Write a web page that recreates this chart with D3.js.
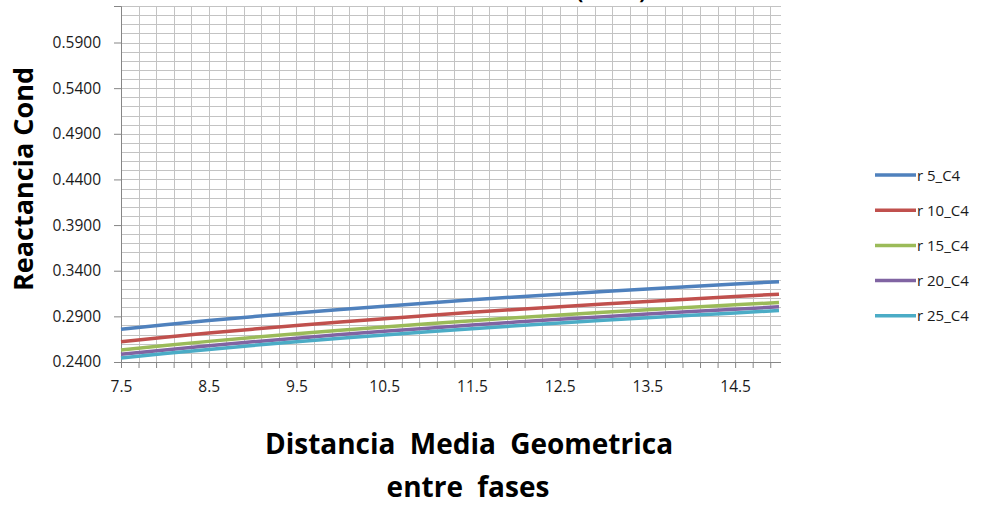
<!DOCTYPE html>
<html>
<head>
<meta charset="utf-8">
<script src="https://cdn.jsdelivr.net/npm/d3@7.9.0/dist/d3.min.js"></script>
<style>
  html, body { margin: 0; padding: 0; background: #fff; }
  svg { display: block; }
  .tick text { font-family: "Open Sans", sans-serif; font-size: 15.5px; fill: #1a1a1a; }
</style>
</head>
<body>
<svg id="chart" width="981" height="506"></svg>
<script>
// --- Data ---
const distancias = [7.5, 8, 8.5, 9, 9.5, 10, 10.5, 11, 11.5, 12, 12.5, 13, 13.5, 14, 14.5, 15];

const r5  = [0.2760, 0.2808, 0.2854, 0.2897, 0.2937, 0.2976, 0.3012, 0.3047, 0.3081, 0.3113, 0.3143, 0.3173, 0.3201, 0.3228, 0.3254, 0.3280];
const r10 = [0.2623, 0.2671, 0.2717, 0.2760, 0.2800, 0.2839, 0.2875, 0.2910, 0.2944, 0.2976, 0.3006, 0.3036, 0.3064, 0.3091, 0.3117, 0.3143];
const r15 = [0.2532, 0.2580, 0.2626, 0.2669, 0.2709, 0.2748, 0.2784, 0.2819, 0.2853, 0.2885, 0.2915, 0.2945, 0.2973, 0.3000, 0.3026, 0.3052];
const r20 = [0.2484, 0.2532, 0.2578, 0.2621, 0.2661, 0.2700, 0.2736, 0.2771, 0.2805, 0.2837, 0.2867, 0.2897, 0.2925, 0.2952, 0.2978, 0.3004];
const r25 = [0.2444, 0.2492, 0.2538, 0.2581, 0.2621, 0.2660, 0.2696, 0.2731, 0.2765, 0.2797, 0.2827, 0.2857, 0.2885, 0.2912, 0.2938, 0.2964];

const seriesNames = ['r 5_C4', 'r 10_C4', 'r 15_C4', 'r 20_C4', 'r 25_C4'];
const seriesValues = [r5, r10, r15, r20, r25];
const colors = ['#4F81BD', '#C0504D', '#9BBB59', '#8064A2', '#4BACC6'];

const yTicks = [0.24, 0.29, 0.34, 0.39, 0.44, 0.49, 0.54, 0.59];
const xTicks = [7.5, 8.5, 9.5, 10.5, 11.5, 12.5, 13.5, 14.5];

const svg = d3.select('#chart');

// --- Scales ---
const x = d3.scaleLinear().domain([7.5, 15]).range([121, 779]);
const y = d3.scaleLinear().domain([0.24, 0.63]).range([362, 6]);

// minor grid steps (0.2 on x, 0.01 on y)
const xMinor = d3.range(0, 38).map(i => +(7.5 + i * 0.2).toFixed(2));
const yMinor = d3.range(0, 40).map(i => +(0.24 + i * 0.01).toFixed(2));

// --- Gridlines ---
const grid = svg.append('g').attr('stroke', '#c3c3c3').attr('stroke-width', 1).attr('shape-rendering', 'crispEdges');
grid.selectAll('.hg').data(yMinor.slice(1)).join('line')
  .attr('x1', x(7.5)).attr('x2', 781)
  .attr('y1', d => Math.round(y(d)) + 0.5).attr('y2', d => Math.round(y(d)) + 0.5);
grid.selectAll('.vg').data(xMinor.slice(1)).join('line')
  .attr('y1', y(0.63)).attr('y2', y(0.24))
  .attr('x1', d => Math.round(x(d)) + 0.5).attr('x2', d => Math.round(x(d)) + 0.5);

// --- Axes ---
const yAxis = svg.append('g')
  .attr('transform', `translate(${x(7.5)},0)`)
  .call(d3.axisLeft(y).tickValues(yTicks).tickFormat(d3.format('.4f')).tickSize(7).tickPadding(13));
yAxis.select('.domain').attr('stroke', '#868686');
yAxis.selectAll('.tick line').attr('stroke', '#868686');

const xAxis = svg.append('g')
  .attr('transform', `translate(0,${y(0.24)})`)
  .call(d3.axisBottom(x).tickValues(xMinor).tickSize(6).tickPadding(13)
    .tickFormat(d => xTicks.includes(d) ? d3.format('.1f')(d) : ''));
xAxis.select('.domain').attr('stroke', '#868686').attr('d', `M${x(7.5)},0.5H781`);
xAxis.selectAll('.tick line').attr('stroke', '#868686');

// --- Lines ---
const line = d3.line().x((d, i) => x(distancias[i])).y(d => y(d));
svg.append('g').selectAll('path').data(seriesValues).join('path')
  .attr('d', d => line(d))
  .attr('fill', 'none')
  .attr('stroke', (d, i) => colors[i])
  .attr('stroke-width', 3.5)
  .attr('stroke-linejoin', 'round');

// --- Legend ---
const legend = svg.append('g').attr('transform', 'translate(875,175)');
const item = legend.selectAll('g').data(seriesNames).join('g')
  .attr('transform', (d, i) => `translate(0,${i * 35.2})`);
item.append('line').attr('x1', 0).attr('x2', 41)
  .attr('stroke', (d, i) => colors[i]).attr('stroke-width', 3.5);
item.append('text').attr('x', 42).attr('y', 5.5)
  .style('font-family', '"Open Sans", sans-serif').style('font-size', '15px').attr('fill', '#1a1a1a')
  .text(d => d);

// --- Titles ---
svg.append('text')
  .attr('x', 646).attr('y', -1).attr('text-anchor', 'end')
  .style('font-family', '"Open Sans", sans-serif').style('font-weight', 700).style('font-size', '20px')
  .attr('fill', '#000')
  .text('Reactancia Inductiva (Ω/km)');

svg.append('text')
  .attr('transform', 'translate(33,179) rotate(-90)')
  .attr('text-anchor', 'middle')
  .style('font-family', '"Open Sans", sans-serif').style('font-weight', 700).style('font-size', '27px')
  .attr('fill', '#000')
  .text('Reactancia Cond');

const xTitle = svg.append('text')
  .attr('text-anchor', 'middle')
  .style('font-family', '"Open Sans", sans-serif').style('font-weight', 700).style('font-size', '28px')
  .style('word-spacing', '7px')
  .attr('fill', '#000');
xTitle.append('tspan').attr('x', 469).attr('y', 454).text('Distancia Media Geometrica');
xTitle.append('tspan').attr('x', 468).attr('y', 497).text('entre fases');
</script>
</body>
</html>
